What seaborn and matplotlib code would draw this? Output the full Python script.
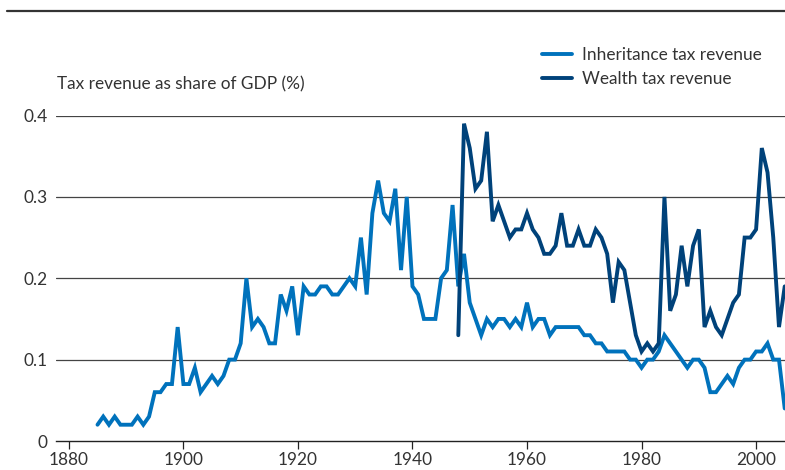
import numpy as np
import pandas as pd
import matplotlib
matplotlib.use("Agg")
import matplotlib.pyplot as plt
import seaborn as sns
from matplotlib.lines import Line2D

# ---- data ----
inh_years = list(range(1885, 2006))
inh_values = [
    0.02, 0.03, 0.02, 0.03, 0.02, 0.02, 0.02, 0.03, 0.02, 0.03,   # 1885-1894
    0.06, 0.06, 0.07, 0.07, 0.14, 0.07, 0.07, 0.09, 0.06, 0.07,   # 1895-1904
    0.08, 0.07, 0.08, 0.10, 0.10, 0.12, 0.20, 0.14, 0.15, 0.14,   # 1905-1914
    0.12, 0.12, 0.18, 0.16, 0.19, 0.13, 0.19, 0.18, 0.18, 0.19,   # 1915-1924
    0.19, 0.18, 0.18, 0.19, 0.20, 0.19, 0.25, 0.18, 0.28, 0.32,   # 1925-1934
    0.28, 0.27, 0.31, 0.21, 0.30, 0.19, 0.18, 0.15, 0.15, 0.15,   # 1935-1944
    0.20, 0.21, 0.29, 0.19, 0.23, 0.17, 0.15, 0.13, 0.15, 0.14,   # 1945-1954
    0.15, 0.15, 0.14, 0.15, 0.14, 0.17, 0.14, 0.15, 0.15, 0.13,   # 1955-1964
    0.14, 0.14, 0.14, 0.14, 0.14, 0.13, 0.13, 0.12, 0.12, 0.11,   # 1965-1974
    0.11, 0.11, 0.11, 0.10, 0.10, 0.09, 0.10, 0.10, 0.11, 0.13,   # 1975-1984
    0.12, 0.11, 0.10, 0.09, 0.10, 0.10, 0.09, 0.06, 0.06, 0.07,   # 1985-1994
    0.08, 0.07, 0.09, 0.10, 0.10, 0.11, 0.11, 0.12, 0.10, 0.10,   # 1995-2004
    0.04,                                                         # 2005
]
wealth_years = list(range(1948, 2006))
wealth_values = [
    0.13, 0.39, 0.36, 0.31, 0.32, 0.38, 0.27, 0.29, 0.27, 0.25,   # 1948-1957
    0.26, 0.26, 0.28, 0.26, 0.25, 0.23, 0.23, 0.24, 0.28, 0.24,   # 1958-1967
    0.24, 0.26, 0.24, 0.24, 0.26, 0.25, 0.23, 0.17, 0.22, 0.21,   # 1968-1977
    0.17, 0.13, 0.11, 0.12, 0.11, 0.12, 0.30, 0.16, 0.18, 0.24,   # 1978-1987
    0.19, 0.24, 0.26, 0.14, 0.16, 0.14, 0.13, 0.15, 0.17, 0.18,   # 1988-1997
    0.25, 0.25, 0.26, 0.36, 0.33, 0.25, 0.14, 0.19,               # 1998-2005
]
series_names = ["Inheritance tax revenue", "Wealth tax revenue"]
y_ticks = [0, 0.1, 0.2, 0.3, 0.4]
y_tick_labels = ["0", "0.1", "0.2", "0.3", "0.4"]
x_ticks = [1880, 1900, 1920, 1940, 1960, 1980, 2000]
y_label = "Tax revenue as share of GDP (%)"

df = pd.concat([
    pd.DataFrame({"year": inh_years, "value": inh_values, "series": series_names[0]}),
    pd.DataFrame({"year": wealth_years, "value": wealth_values, "series": series_names[1]}),
], ignore_index=True)

# ---- style ----
sns.set_theme(style="white")
plt.rcParams["font.family"] = ["Lato", "DejaVu Sans"]
text_col = "#333333"
fs = 12.4
colors = {series_names[0]: "#0072BC", series_names[1]: "#00427A"}

fig = plt.figure(figsize=(7.85, 4.70), dpi=100)
ax = fig.add_axes([55.7 / 785, 29 / 470, 1 - 55.7 / 785, (441 - 115.5) / 470])

sns.lineplot(data=df, x="year", y="value", hue="series", palette=colors,
             hue_order=series_names, linewidth=2.8, ax=ax, legend=False,
             solid_joinstyle="miter", clip_on=False)

ax.set_xlim(1877.7, 2005.05)
ax.set_ylim(0, 0.4)
ax.set_yticks(y_ticks)
ax.set_yticklabels(y_tick_labels)
ax.set_xticks(x_ticks)
ax.set_xticklabels([str(t) for t in x_ticks])
ax.set_xlabel("")
ax.set_ylabel("")

for v in y_ticks[1:]:
    ax.axhline(v, color="#444444", linewidth=0.9, zorder=0)

for s in ["top", "right", "left"]:
    ax.spines[s].set_visible(False)
ax.spines["bottom"].set_color("#222222")
ax.spines["bottom"].set_linewidth(1.0)
ax.tick_params(axis="x", bottom=True, length=6, width=0.9, color="#222222",
               labelsize=fs, labelcolor=text_col, pad=2)
ax.tick_params(axis="y", left=False, length=0, labelsize=fs,
               labelcolor=text_col, pad=6)

fig.text(57 / 785, 1 - 84 / 470, y_label, fontsize=fs, color=text_col,
         ha="left", va="center")

# legend built from the series
handles = [Line2D([0], [0], color=colors[n], linewidth=2.8) for n in series_names]
leg = fig.legend(handles, series_names, loc="upper left",
                 bbox_to_anchor=(535 / 785, 1 - 40 / 470), frameon=False,
                 fontsize=fs, handlelength=1.75, handletextpad=0.55,
                 labelspacing=0.45, borderaxespad=0)
for t in leg.get_texts():
    t.set_color(text_col)

# top rule
fig.add_artist(Line2D([7 / 785, 1], [1 - 11 / 470, 1 - 11 / 470],
                      transform=fig.transFigure, color="#333333", linewidth=1.6))

fig.savefig("out.png", dpi=100)
